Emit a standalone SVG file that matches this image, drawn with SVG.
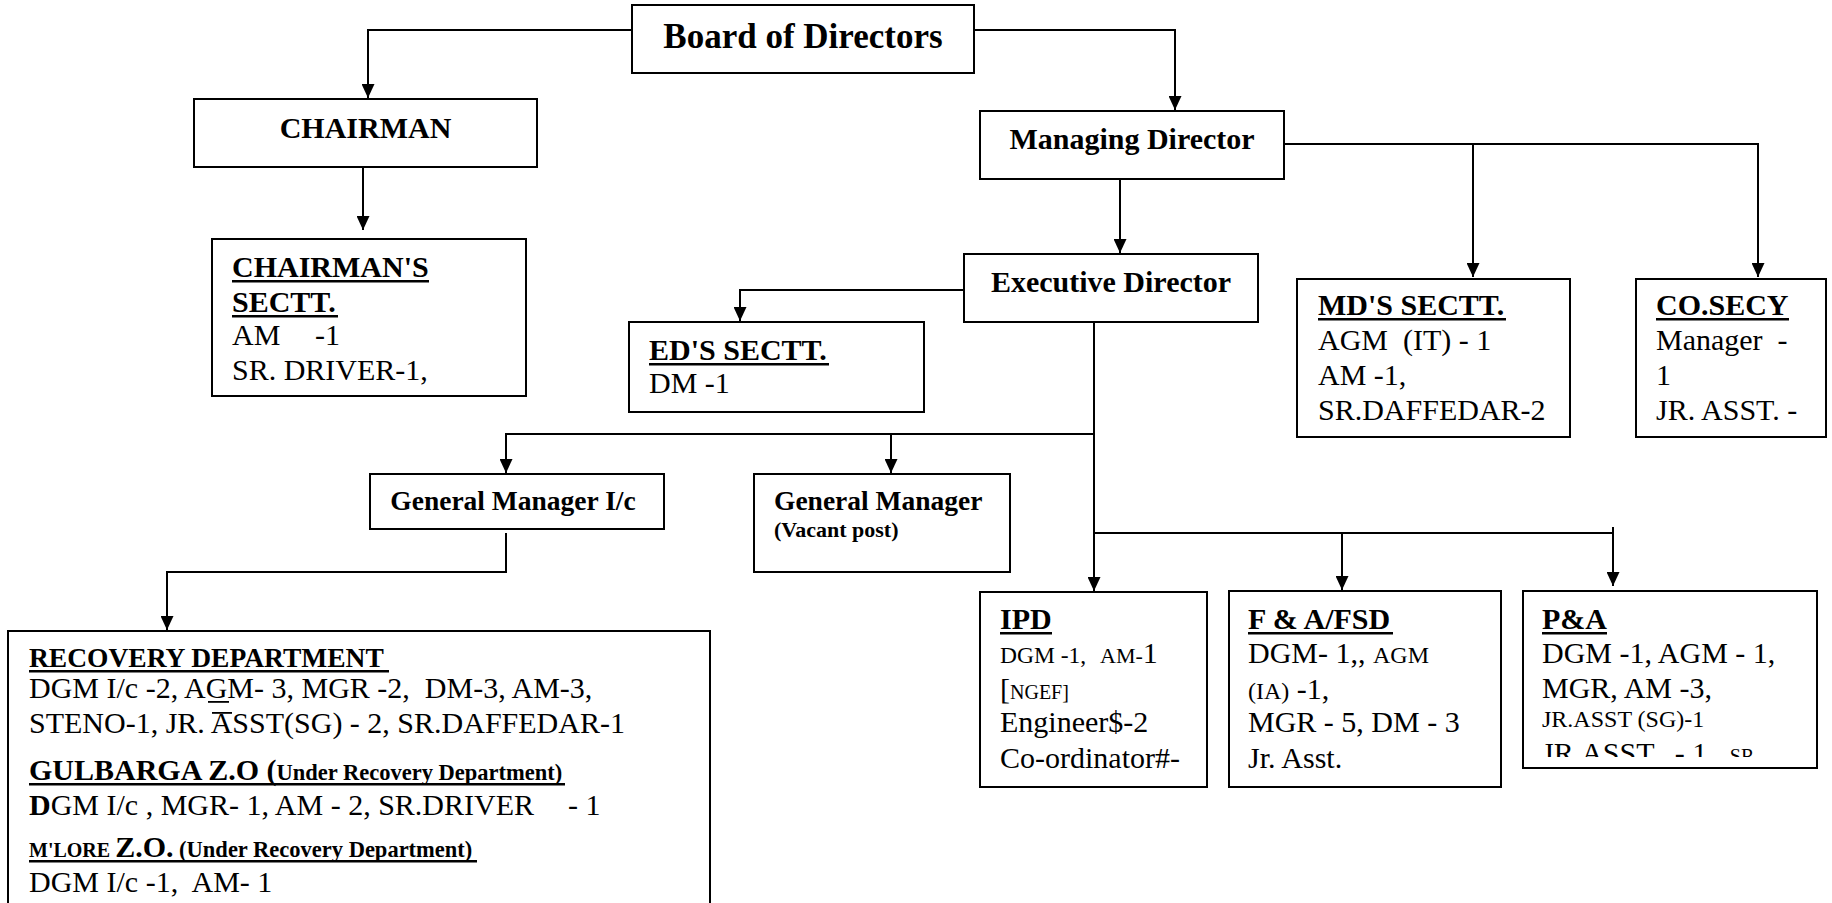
<svg xmlns="http://www.w3.org/2000/svg" width="1832" height="903" viewBox="0 0 1832 903">
<style>
text{font-family:"Liberation Serif","Times New Roman",serif;fill:#000}
.b{font-weight:bold}
.t30{font-size:30px}
.box{fill:#fff;stroke:#000;stroke-width:2}
.ln{fill:none;stroke:#000;stroke-width:2}
.ul{fill:#000}
</style>
<defs>
<marker id="ah" markerWidth="14" markerHeight="13" refX="14" refY="6.5" orient="auto" markerUnits="userSpaceOnUse"><path d="M0,0 L14,6.5 L0,13 z" fill="#000"/></marker>
<clipPath id="pacl"><rect x="1523" y="591" width="294" height="166"/></clipPath>
</defs>
<rect width="1832" height="903" fill="#fff"/>

<g id="connectors">
<path class="ln" d="M632,30 H368 V98" marker-end="url(#ah)"/>
<path class="ln" d="M974,30 H1175 V110" marker-end="url(#ah)"/>
<path class="ln" d="M363,167 V230" marker-end="url(#ah)"/>
<path class="ln" d="M1120,179 V253" marker-end="url(#ah)"/>
<path class="ln" d="M1284,144 H1758 V277" marker-end="url(#ah)"/>
<path class="ln" d="M1473,144 V277" marker-end="url(#ah)"/>
<path class="ln" d="M964,290 H740 V321" marker-end="url(#ah)"/>
<path class="ln" d="M1094,318 V591" marker-end="url(#ah)"/>
<path class="ln" d="M1094,434 H506 V473" marker-end="url(#ah)"/>
<path class="ln" d="M891,434 V473" marker-end="url(#ah)"/>
<path class="ln" d="M1094,533 H1613 V586" marker-end="url(#ah)"/>
<path class="ln" d="M1613,527 V533"/>
<path class="ln" d="M1342,533 V590" marker-end="url(#ah)"/>
<path class="ln" d="M506,533 V572 H167 V630" marker-end="url(#ah)"/>
</g>

<g id="board">
<rect class="box" x="632" y="5" width="342" height="68"/>
<text class="b" x="803" y="48" font-size="35" text-anchor="middle">Board of Directors</text>
</g>

<g id="chairman">
<rect class="box" x="194" y="99" width="343" height="68"/>
<text class="b t30" x="365.5" y="138" text-anchor="middle">CHAIRMAN</text>
</g>

<g id="chairman-sectt">
<rect class="box" x="212" y="239" width="314" height="157"/>
<text class="b t30" x="232" y="277">CHAIRMAN'S</text>
<rect class="ul" x="232" y="280" width="197" height="2.5"/>
<text class="b t30" x="232" y="312">SECTT.</text>
<rect class="ul" x="232" y="315" width="106" height="2.5"/>
<text class="t30" x="232" y="345">AM<tspan x="315">-1</tspan></text>
<text class="t30" x="232" y="380">SR. DRIVER-1,</text>
</g>

<g id="managing-director">
<rect class="box" x="980" y="111" width="304" height="68"/>
<text class="b t30" x="1132" y="149" text-anchor="middle">Managing Director</text>
</g>

<g id="executive-director">
<rect class="box" x="964" y="254" width="294" height="68"/>
<text class="b t30" x="1111" y="292" text-anchor="middle">Executive Director</text>
</g>

<g id="ed-sectt">
<rect class="box" x="629" y="322" width="295" height="90"/>
<text class="b t30" x="649" y="360">ED'S SECTT.</text>
<rect class="ul" x="649" y="363" width="180" height="2.5"/>
<text class="t30" x="649" y="393">DM -1</text>
</g>

<g id="md-sectt">
<rect class="box" x="1297" y="279" width="273" height="158"/>
<text class="b t30" x="1318" y="315">MD'S SECTT.</text>
<rect class="ul" x="1318" y="318" width="188" height="2.5"/>
<text class="t30" x="1318" y="350" xml:space="preserve">AGM  (IT) - 1</text>
<text class="t30" x="1318" y="385">AM -1,</text>
<text class="t30" x="1318" y="420">SR.DAFFEDAR-2</text>
</g>

<g id="co-secy">
<rect class="box" x="1636" y="279" width="190" height="158"/>
<text class="b t30" x="1656" y="315">CO.SECY</text>
<rect class="ul" x="1656" y="318" width="133" height="2.5"/>
<text class="t30" x="1656" y="350" xml:space="preserve">Manager  -</text>
<text class="t30" x="1656" y="385">1</text>
<text class="t30" x="1656" y="420">JR. ASST. -</text>
</g>

<g id="gm-ic">
<rect class="box" x="370" y="474" width="294" height="55"/>
<text class="b" x="513" y="510" font-size="27.5" text-anchor="middle">General Manager I/c</text>
</g>

<g id="gm-vacant">
<rect class="box" x="754" y="474" width="256" height="98"/>
<text class="b" x="774" y="510" font-size="27.5">General Manager</text>
<text class="b" x="774" y="537" font-size="22">(Vacant post)</text>
</g>

<g id="recovery">
<rect class="box" x="8" y="631" width="702" height="290"/>
<text class="b" x="29" y="667" font-size="27.5">RECOVERY DEPARTMENT</text>
<rect class="ul" x="29" y="670" width="360" height="2.5"/>
<text class="t30" x="29" y="698" xml:space="preserve">DGM I/c -2, AGM- 3, MGR -2,  DM-3, AM-3,</text>
<rect class="ul" x="208" y="701" width="21" height="1.8"/>
<text class="t30" x="29" y="733">STENO-1, JR. ASST(SG) - 2, SR.DAFFEDAR-1</text>
<rect class="ul" x="212" y="712" width="20" height="1.8"/>
<text class="b" x="29" y="780"><tspan font-size="30">GULBARGA Z.O (</tspan><tspan font-size="22.5">Under Recovery Department)</tspan></text>
<rect class="ul" x="29" y="783" width="536" height="2.5"/>
<text class="t30" x="29" y="815"><tspan class="b">D</tspan>GM I/c , MGR- 1, AM - 2, SR.DRIVER<tspan x="568">- 1</tspan></text>
<text class="b" x="29" y="857" xml:space="preserve"><tspan font-size="20">M'LORE </tspan><tspan font-size="30">Z.O.</tspan><tspan font-size="22.5"> (Under Recovery Department)</tspan></text>
<rect class="ul" x="29" y="860" width="448" height="2.5"/>
<text class="t30" x="29" y="892" xml:space="preserve">DGM I/c -1,  AM- 1</text>
</g>

<g id="ipd">
<rect class="box" x="980" y="592" width="227" height="195"/>
<text class="b t30" x="1000" y="629">IPD</text>
<rect class="ul" x="1000" y="632" width="52" height="2.5"/>
<text x="1000" y="663"><tspan font-size="23.5">DGM -1,</tspan><tspan x="1100" font-size="22">AM-</tspan><tspan font-size="30">1</tspan></text>
<text x="1000" y="699"><tspan font-size="30">[</tspan><tspan font-size="20">NGEF]</tspan></text>
<text class="t30" x="1000" y="732">Engineer$-2</text>
<text class="t30" x="1000" y="768">Co-ordinator#-</text>
</g>

<g id="fa-fsd">
<rect class="box" x="1229" y="591" width="272" height="196"/>
<text class="b t30" x="1248" y="629">F &amp; A/FSD</text>
<rect class="ul" x="1248" y="632" width="145" height="2.5"/>
<text x="1248" y="663" xml:space="preserve"><tspan font-size="30">DGM- 1,, </tspan><tspan font-size="24">AGM</tspan></text>
<text x="1248" y="699"><tspan font-size="24">(IA)</tspan><tspan font-size="30"> -1,</tspan></text>
<text class="t30" x="1248" y="732">MGR - 5, DM - 3</text>
<text class="t30" x="1248" y="768">Jr. Asst.</text>
</g>

<g id="pa">
<rect class="box" x="1523" y="591" width="294" height="177"/>
<text class="b t30" x="1542" y="629">P&amp;A</text>
<rect class="ul" x="1542" y="632" width="65" height="2.5"/>
<text class="t30" x="1542" y="663">DGM -1, AGM - 1,</text>
<text class="t30" x="1542" y="698">MGR, AM -3,</text>
<text x="1542" y="727" font-size="24">JR.ASST (SG)-1</text>
<g clip-path="url(#pacl)">
<text x="1542" y="763" xml:space="preserve"><tspan font-size="30">JR.ASST.  - 1,  </tspan><tspan font-size="20">SR</tspan></text>
</g>
</g>
</svg>
